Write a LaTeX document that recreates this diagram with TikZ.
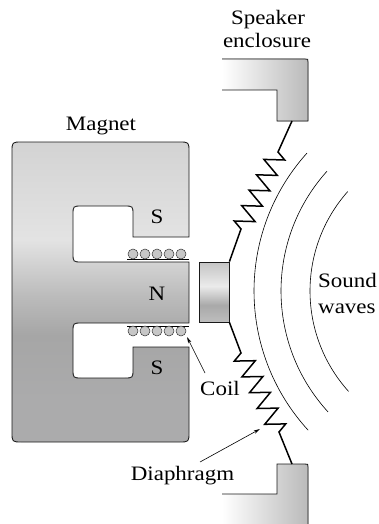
\documentclass[tikz,border=0pt]{standalone}
\usepackage{fontspec}
\setmainfont{Liberation Serif}[FakeStretch=1.12]
\usetikzlibrary{arrows.meta}

% magnet body: light band near the upper gap, darker below the north pole
\definecolor{magTop}{HTML}{D3D3D3}
\definecolor{magLight}{HTML}{E3E3E3}
\definecolor{magMid}{HTML}{BCBCBC}
\definecolor{magDark}{HTML}{A6A6A6}
\definecolor{magBot}{HTML}{ABABAC}
\pgfdeclareverticalshading{magnetshade}{100bp}{%
  color(0bp)=(magBot); color(25bp)=(magBot); color(32bp)=(magBot);
  color(42.8bp)=(magDark); color(49.5bp)=(magMid); color(58.7bp)=(magLight);
  color(75bp)=(magTop); color(100bp)=(magTop)}

% voice-coil former: cylindrical look
\definecolor{coneA}{HTML}{BEBEBE}
\definecolor{coneB}{HTML}{EBEBEB}
\definecolor{coneC}{HTML}{A9A9A9}
\definecolor{coneD}{HTML}{C4C4C4}
\pgfdeclareverticalshading{coneshade}{100bp}{%
  color(0bp)=(coneA); color(25bp)=(coneA); color(39bp)=(coneC);
  color(55bp)=(coneB); color(75bp)=(coneD); color(100bp)=(coneD)}

\begin{document}
\begin{tikzpicture}[x=1pt,y=-1pt,
  outline/.style={draw=black!90, line width=0.85pt},
  lbl/.style={font=\fontsize{20.5}{23}\selectfont, inner sep=0pt, anchor=base},
  springline/.style={line width=1.5pt, line join=miter, miter limit=20},
  wave/.style={line width=0.6pt},
  pointer/.style={line width=0.6pt, -{Stealth[length=6.5pt,width=3.4pt]}},
  coilturn/.style={draw=black!80, fill=black!22, line width=0.5pt},
  enclosure/.style={left color=white, right color=black!27}]

\useasboundingbox (0,0) rectangle (379,524);

% ---- magnet (E-shaped pole piece) ----
\path[shading=magnetshade] (12,300)
  -- (12,152) .. controls (12,142) .. (22,142)
  -- (179,142) .. controls (189,142) .. (189,152)
  -- (189,237) -- (133,237)
  -- (133,215) .. controls (133,206) .. (124,206)
  -- (82,206) .. controls (73,206) .. (73,215)
  -- (73,253) .. controls (73,262) .. (82,262)
  -- (189,262) -- (189,323)
  -- (82,323) .. controls (73,323) .. (73,332)
  -- (73,369) .. controls (73,378) .. (82,378)
  -- (124,378) .. controls (133,378) .. (133,369)
  -- (133,347) -- (189,347)
  -- (189,432) .. controls (189,442) .. (179,442)
  -- (22,442) .. controls (12,442) .. (12,432)
  -- cycle;
\draw[outline] (12,300)
  -- (12,152) .. controls (12,142) .. (22,142)
  -- (179,142) .. controls (189,142) .. (189,152)
  -- (189,237) -- (133,237)
  -- (133,215) .. controls (133,206) .. (124,206)
  -- (82,206) .. controls (73,206) .. (73,215)
  -- (73,253) .. controls (73,262) .. (82,262)
  -- (189,262) -- (189,323)
  -- (82,323) .. controls (73,323) .. (73,332)
  -- (73,369) .. controls (73,378) .. (82,378)
  -- (124,378) .. controls (133,378) .. (133,369)
  -- (133,347) -- (189,347)
  -- (189,432) .. controls (189,442) .. (179,442)
  -- (22,442) .. controls (12,442) .. (12,432)
  -- cycle;

% ---- coil windings ----
\draw[line width=0.7pt] (127,259) -- (189,259);
\draw[line width=0.7pt] (127,326) -- (189,326);
\foreach \cx in {133,145,157,169,181} {
  \draw[coilturn] (\cx,254) circle[radius=5pt];
  \draw[coilturn] (\cx,331) circle[radius=5pt];
}

% ---- coil former attached to the diaphragm ----
\node[outline, shading=coneshade, minimum width=30pt, minimum height=60pt,
      inner sep=0pt] (cone) at (214,292) {};

% ---- speaker enclosure ----
\fill[enclosure] (222,59) -- (305,59) .. controls (308,59) .. (308,62)
  -- (308,121) -- (277,121) -- (277,90) -- (222,90) -- cycle;
\draw[outline] (222,59) -- (305,59) .. controls (308,59) .. (308,62)
  -- (308,121) -- (277,121) -- (277,90) -- (222,90);
\fill[enclosure] (222,494) -- (277,494) -- (277,464) -- (305,464)
  .. controls (308,464) .. (308,467) -- (308,530) -- (222,530) -- cycle;
\draw[outline] (222,494) -- (277,494) -- (277,464) -- (305,464)
  .. controls (308,464) .. (308,467) -- (308,530);

% ---- diaphragm suspension springs ----
\coordinate (encU) at (292,121);
\coordinate (encL) at (292,464);
\coordinate (sprUa) at (278,152);
\coordinate (sprUb) at (241,229);
\coordinate (sprLa) at (241,353);
\coordinate (sprLb) at (279,432);
\draw[springline] (encU) -- (sprUa)
  -- (284.7,160.0) -- (263.9,159.4) -- (277.3,175.4) -- (256.5,174.8)
  -- (269.9,190.8) -- (249.1,190.2) -- (262.5,206.2) -- (241.7,205.6)
  -- (255.1,221.6) -- (234.3,221.0) -- (sprUb) -- (cone.north east);
\draw[springline] (cone.south east) -- (sprLa)
  -- (234.3,361.1) -- (255.3,360.7) -- (241.9,376.9) -- (262.9,376.5)
  -- (249.5,392.7) -- (270.5,392.3) -- (257.1,408.5) -- (278.1,408.1)
  -- (264.7,424.3) -- (285.7,423.9) -- (sprLb) -- (encL);

% ---- sound waves ----
\coordinate (src) at (460,291);
\draw[wave] (src) ++(137.5:206) arc[start angle=137.5, end angle=222, radius=206];
\draw[wave] (src) ++(137.5:179) arc[start angle=137.5, end angle=222, radius=179];
\draw[wave] (src) ++(138:150) arc[start angle=138, end angle=221.5, radius=150];

% ---- labels ----
\node[lbl] (spk1) at (268,25) {Speaker};
\node[lbl] (spk2) at (267,48) {enclosure};
\node[lbl] (magnet) at (101,130) {Magnet};
\node[lbl] (poleS1) at (157,223.5) {S};
\node[lbl] (poleN) at (157,300) {N};
\node[lbl] (poleS2) at (157,374.5) {S};
\node[lbl] (coil) at (220,395.5) {Coil};
\node[lbl, anchor=base west] (snd1) at (318,287) {Sound};
\node[lbl, anchor=base west] (snd2) at (318,313) {waves};
\node[lbl] (diaph) at (182.5,480) {Diaphragm};

% ---- pointers ----
\coordinate (coilTail) at (205,373);
\coordinate (coilTip) at (187,337);
\coordinate (diaTail) at (200,462);
\coordinate (diaTip) at (260,429);
\draw[pointer] (coilTail) -- (coilTip);
\draw[pointer] (diaTail) -- (diaTip);
\end{tikzpicture}
\end{document}
